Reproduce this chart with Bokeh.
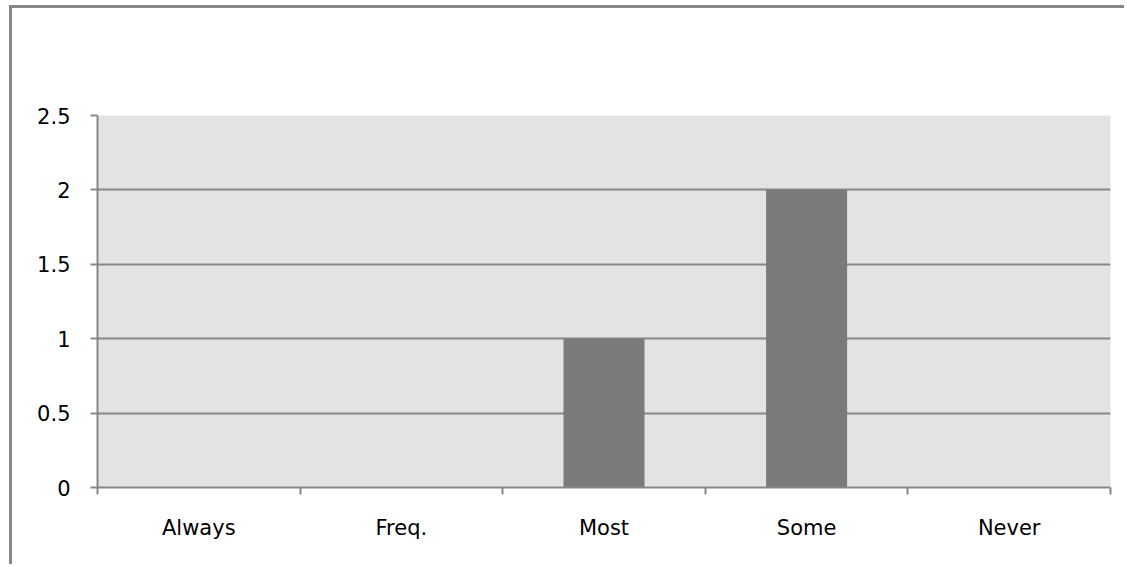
from bokeh.plotting import figure
from bokeh.models import FixedTicker, Range1d, ColumnDataSource
from bokeh.embed import file_html
from bokeh.resources import INLINE

categories = ["Always", "Freq.", "Most", "Some", "Never"]
values = [0, 0, 1, 2, 0]
y_ticks = [0, 0.5, 1, 1.5, 2, 2.5]
y_tick_labels = ["0", "0.5", "1", "1.5", "2", "2.5"]

GRAY = "#878787"
centers = [i + 0.5 for i in range(len(categories))]
src = ColumnDataSource(dict(x=centers, top=values, cat=categories))

p = figure(width=1112, height=556, output_backend="svg", toolbar_location=None,
           x_range=Range1d(0, len(categories)), y_range=Range1d(0, 2.5),
           min_border_left=85, min_border_right=17, min_border_top=107, min_border_bottom=80)
p.margin = (5, 0, 0, 9)
p.styles = {"border-top": "3px solid #878787", "border-left": "3px solid #878787",
            "box-sizing": "content-box"}
p.background_fill_color = "#e3e3e3"
p.border_fill_color = "white"
p.outline_line_color = None

p.vbar(x="x", top="top", width=0.4, source=src, fill_color="#7a7a7a", line_color=None)

# x axis
xa = p.xaxis[0]
xa.ticker = FixedTicker(ticks=centers, minor_ticks=list(range(len(categories) + 1)))
xa.major_label_overrides = {c: n for c, n in zip(centers, categories)}
xa.major_tick_out = 0
xa.major_tick_in = 0
xa.minor_tick_out = 7
xa.minor_tick_in = 0
xa.minor_tick_line_color = GRAY
xa.minor_tick_line_width = 2
xa.axis_line_color = GRAY
xa.axis_line_width = 2
xa.major_label_standoff = 21
xa.major_label_text_font = "DejaVu Sans"
xa.major_label_text_font_size = "21px"
xa.major_label_text_color = "#000000"

# y axis
ya = p.yaxis[0]
ya.ticker = FixedTicker(ticks=y_ticks)
ya.major_label_overrides = {t: l for t, l in zip(y_ticks, y_tick_labels)}
ya.major_tick_out = 7
ya.major_tick_in = 0
ya.major_tick_line_color = GRAY
ya.major_tick_line_width = 2
ya.minor_tick_line_color = None
ya.axis_line_color = GRAY
ya.axis_line_width = 2
ya.major_label_standoff = 20
ya.major_label_text_font = "DejaVu Sans"
ya.major_label_text_font_size = "21px"
ya.major_label_text_color = "#000000"

p.xgrid.grid_line_color = None
p.ygrid.ticker = FixedTicker(ticks=y_ticks)
p.ygrid.grid_line_color = GRAY
p.ygrid.grid_line_width = 2

open("out.html", "w").write(file_html(p, INLINE))
